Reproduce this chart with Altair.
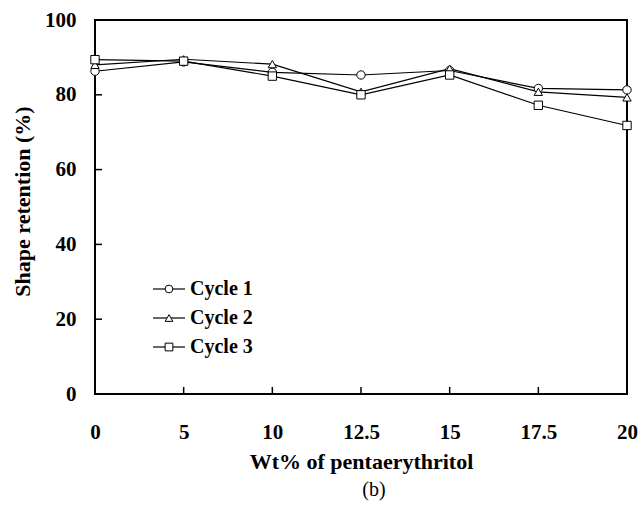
import altair as alt
import pandas as pd

wt = ["0", "5", "10", "12.5", "15", "17.5", "20"]
cycle_names = ["Cycle 1", "Cycle 2", "Cycle 3"]
cycle1 = [86.3, 88.8, 86.0, 85.3, 86.5, 81.7, 81.3]
cycle2 = [88.0, 89.5, 88.2, 80.8, 87.0, 80.8, 79.3]
cycle3 = [89.4, 89.0, 85.0, 80.0, 85.3, 77.2, 71.8]
marker_shapes = ["circle", "triangle-up", "square"]
x_ticks = ["5", "10", "12.5", "15", "17.5"]
y_ticks = [20, 40, 60, 80]
y_labels = [0, 20, 40, 60, 80, 100]

rows = []
for name, vals in zip(cycle_names, [cycle1, cycle2, cycle3]):
    for w, v in zip(wt, vals):
        rows.append({"wt": w, "cycle": name, "value": v})
df = pd.DataFrame(rows)
legend_df = pd.DataFrame({"cycle": cycle_names})

W, H = 532, 374
FONT = "Liberation Serif"

x_enc = alt.X(
    "wt:O",
    scale=alt.Scale(type="point", padding=0, domain=wt),
    axis=alt.Axis(
        title="Wt% of pentaerythritol", labelAngle=0, ticks=False, tickSize=0,
        domain=False, labelPadding=27, labelFontSize=21, labelFontWeight="bold",
        titleFontSize=22, titleFontWeight="bold", titleY=74,
        titleBaseline="alphabetic",
    ),
)
y_scale = alt.Scale(domain=[0, 100], nice=False, zero=True)
y_enc = alt.Y(
    "value:Q",
    scale=y_scale,
    axis=alt.Axis(
        title="Shape retention (%)", values=y_labels, ticks=False, tickSize=0,
        domain=False, grid=False, labelPadding=19, labelFontSize=21,
        labelFontWeight="bold", titleFontSize=22, titleFontWeight="bold",
        titleX=-73, titleY=H / 2 - 6, titleBaseline="middle", titleAngle=270,
    ),
)
y_plain = alt.Y("value:Q", scale=y_scale, axis=None)
shape_enc = alt.Shape("cycle:N", scale=alt.Scale(domain=cycle_names,
                      range=marker_shapes), legend=None)

lines = alt.Chart(df).mark_line(color="black", strokeWidth=1.2).encode(
    x=x_enc, y=y_enc, detail="cycle:N"
)

points = alt.Chart(df).mark_point(
    fill="white", stroke="black", strokeWidth=1, fillOpacity=1, opacity=1, size=70
).encode(x=x_enc, y=y_plain, shape=shape_enc)

xt = alt.Chart(pd.DataFrame({"wt": x_ticks})).mark_rule(
    color="black", strokeWidth=1.5
).encode(x=x_enc, y=alt.value(H), y2=alt.value(H - 7))

yt = alt.Chart(pd.DataFrame({"value": y_ticks})).mark_rule(
    color="black", strokeWidth=1.5
).encode(y=y_plain, x=alt.value(0), x2=alt.value(7))

# legend (drawn inside the plot area, lower left)
leg_y = alt.Y("cycle:N", scale=alt.Scale(type="point", domain=cycle_names,
              range=[269, 327], padding=0), axis=None)
leg_rule = alt.Chart(legend_df).mark_rule(color="black", strokeWidth=1.2).encode(
    y=leg_y, x=alt.value(58), x2=alt.value(90)
)
leg_pt = alt.Chart(legend_df).mark_point(
    fill="white", stroke="black", strokeWidth=1, fillOpacity=1, opacity=1, size=60
).encode(y=leg_y, x=alt.value(74), shape=shape_enc)
leg_txt = alt.Chart(legend_df).mark_text(
    align="left", baseline="middle", font=FONT, fontSize=20,
    fontWeight="bold", color="black"
).encode(y=leg_y, x=alt.value(95), text="cycle:N")

chart = alt.layer(
    lines, points, xt, yt, leg_rule, leg_pt, leg_txt
).resolve_scale(y="independent").properties(
    width=W, height=H,
    padding={"left": 95, "top": 20, "right": 15, "bottom": 112},
    autosize=alt.AutoSizeParams(type="none"),
    title=alt.TitleParams("(b)", orient="bottom", anchor="middle", fontSize=20,
                          fontWeight="normal", font=FONT, color="black",
                          offset=8, dx=13),
    background="white",
).configure_view(
    stroke="black", strokeWidth=2
).configure_axis(
    labelFont=FONT, titleFont=FONT, labelColor="black", titleColor="black"
)

chart.save("out.html", embed_options={"renderer": "svg", "actions": False})
